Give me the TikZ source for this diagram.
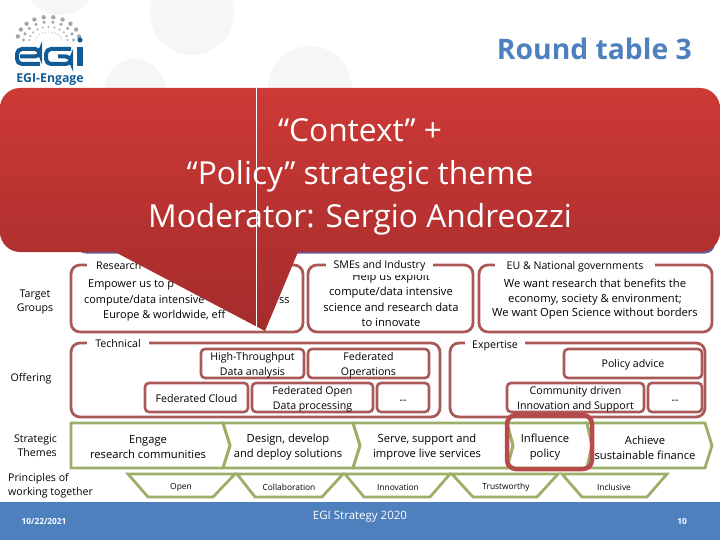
\documentclass[tikz,border=0pt]{standalone}
\usepackage{xcolor}
\usepackage{fontspec}
\setmainfont{Open Sans}
\usetikzlibrary{positioning, calc}
\definecolor{boxred}{RGB}{170,88,88}
\definecolor{themegreen}{RGB}{155,175,105}
\definecolor{calloutred}{RGB}{205,58,54}
\definecolor{calloutdark}{RGB}{165,44,44}
\definecolor{footblue}{RGB}{78,128,190}
\definecolor{egiblue}{RGB}{18,92,150}
\definecolor{paledot}{RGB}{245,246,248}

\begin{document}
\begin{tikzpicture}[
    x=1pt, y=-1pt,
    font=\fontsize{11.2}{15}\selectfont,
    group/.style={draw=boxred, line width=2.8pt, rounded corners=9pt},
    inner/.style={draw=boxred, line width=2.6pt, rounded corners=4pt, fill=white, align=center, inner sep=0pt, minimum height=29pt, font=\fontsize{10.6}{15}\selectfont, execute at begin node={\rule{0pt}{11pt}}},
    twoline/.style={inner, execute at begin node={\rule{0pt}{26pt}}},
    theme/.style={draw=themegreen, line width=2.8pt, line join=miter},
    tag/.style={fill=white, inner sep=1pt, font=\fontsize{10.6}{12}\selectfont},
    side/.style={font=\fontsize{10.6}{14.2}\selectfont},
    word/.style={align=center, font=\fontsize{8.4}{10}\selectfont},
    cut/.style={anchor=west, inner sep=0pt, font=\fontsize{10.9}{15}\selectfont}
]
\useasboundingbox (0,0) rectangle (720,540);

% Background dots
\fill[paledot] (60,-20) circle (35);
\fill[paledot] (192,13) circle (42);
\fill[paledot] (135,89) circle (30);
\fill[paledot] (310,88) circle (42);

% Logo
\foreach \a in {0,18,...,162}
  \fill[gray!70] ($(48.5,40)+({\a+9}:31 and -23)$) circle (2.2);
\foreach \a in {0,20,...,180}
  \fill[gray!70] ($(48.5,40)+({\a}:25 and -18)$) circle (1.7);
\foreach \a in {0,18,...,180}
  \fill[gray!60] ($(48.5,40)+({\a}:19 and -13)$) circle (1.2);
\foreach \a in {0,15,...,180}
  \fill[gray!50] ($(48.5,40)+({\a}:13 and -8)$) circle (0.7);
\fill[egiblue] (80,40) circle (2.6);
\draw[egiblue, line width=4pt, rounded corners=5pt] (40,64) -- (17,64) -- (17,49) -- (40,49) -- (40,56.5) -- (20,56.5);
\draw[egiblue, line width=4pt, rounded corners=5pt] (71,49) -- (46,49) -- (46,64) -- (71,64) -- (71,56.5) -- (58,56.5);
\draw[egiblue, line width=5.5pt] (80,47) -- (80,66);
\node[text=egiblue, font=\fontsize{12.3}{14}\selectfont\bfseries] (engage) at (50,80) {EGI-Engage};

% Title
\node[text=footblue, font=\fontsize{28.3}{30}\selectfont\bfseries, anchor=east, inner sep=0pt] (title) at (692,49) {Round table 3};

% Side labels
\node[side, align=center] (target) at (35,302) {Target\\Groups};
\node[side] (offering) at (31,379) {Offering};
\node[side, align=right, anchor=east, inner sep=0pt] (themes) at (57,445.5) {Strategic\\Themes};
\node[side, align=left, anchor=west, inner sep=0pt] (principles) at (8,485.5) {Principles of\\working together};

% Target groups
\draw[group] (71,265) rectangle (303,332);
\draw[group] (308,265) rectangle (473,332);
\draw[group] (479,265) rectangle (712,332);
\node[cut] (empower) at (88,284.5) {Empower us to p};
\node[cut] (intensive) at (84,300.5) {compute/data intensive};
\node[cut] (across) at (279,300.5) {ss};
\node[cut] (europe) at (103,315.5) {Europe \& worldwide, eff};
\node[align=center, font=\fontsize{11.2}{15.5}\selectfont] (exploit) at (391,299.5) {Help us exploit\\compute/data intensive\\science and research data\\to innovate};
\node[align=center, font=\fontsize{11.2}{14.5}\selectfont] (want) at (595,299.5) {We want research that benefits the\\economy, society \& environment;\\We want Open Science without borders};
\node[tag, anchor=west, inner xsep=9pt] (research) at (87,266) {Research};
\node[tag, minimum width=107pt, minimum height=17pt] (smes) at (379.5,266) {SMEs and Industry};
\node[tag, minimum width=160pt] (eu) at (575,267) {EU \& National governments};

% Offering
\draw[group] (71,343) rectangle (440,417);
\draw[group] (450,343) rectangle (705,417);
\node[tag, minimum width=62pt] (technical) at (118,344) {Technical};
\node[tag, minimum width=60pt] (expertise) at (495,346) {Expertise};
\node[twoline, minimum width=103pt] (htp) at (252.5,363.5) {High-Throughput\\Data analysis};
\node[twoline, minimum width=121pt] (fedops) at (368.5,363.5) {Federated\\Operations};
\node[inner, minimum width=103pt] (fedcloud) at (196.5,397.5) {Federated Cloud};
\node[twoline, minimum width=121pt] (fedopen) at (312.5,397.5) {Federated Open\\Data processing};
\node[inner, minimum width=52pt] (dashA) at (403,397.5) {{-}{-}};
\node[inner, minimum width=138pt] (advice) at (633,363.5) {Policy advice};
\node[twoline, minimum width=137pt] (community) at (575.5,397.5) {Community driven\\Innovation and Support};
\node[inner, minimum width=54pt] (dashB) at (675,397.5) {{-}{-}};

% Strategic themes
\draw[theme] (71,423) -- (223,423) -- (230,445.5) -- (223,468) -- (71,468) -- cycle;
\draw[theme] (223,423) -- (353,423) -- (360,445.5) -- (353,468) -- (223,468) -- (230,445.5) -- cycle;
\draw[theme] (353,423) -- (507,423) -- (513,445.5) -- (507,468) -- (353,468) -- (360,445.5) -- cycle;
\draw[theme] (507,423) -- (587,423) -- (592,445.5) -- (587,468) -- (507,468) -- (513,445.5) -- cycle;
\draw[theme] (587,423) -- (705,423) -- (712,445.5) -- (705,468) -- (587,468) -- (592,445.5) -- cycle;
\node[align=center] (engageres) at (148,447.5) {Engage\\research communities};
\node[align=center] (design) at (288,447.5) {Design, develop\\and deploy solutions};
\node[align=center] (serve) at (427,447.5) {Serve, support and\\improve live services};
\node[align=center] (influence) at (545,447.5) {Influence\\policy};
\node[align=center] (achieve) at (645,447.5) {Achieve\\sustainable finance};
\draw[draw=boxred!85!red, line width=4.5pt, rounded corners=9pt] (507,415) rectangle (592,469);

% Principles
\draw[theme] (128,474) -- (235,474) -- (213,497) -- (148,497) -- cycle;
\draw[theme] (237,474) -- (343,474) -- (322,497) -- (255,497) -- cycle;
\draw[theme] (345,474) -- (450,474) -- (430,497) -- (364,497) -- cycle;
\draw[theme] (452,474) -- (558,474) -- (537,497) -- (473,497) -- cycle;
\draw[theme] (562,474) -- (667,474) -- (647,497) -- (582,497) -- cycle;
\node[word] (open) at (181,487) {Open};
\node[word] (collab) at (289,487) {Collaboration};
\node[word] (innov) at (398,487) {Innovation};
\node[word] (trust) at (506,487) {Trustworthy};
\node[word] (inclusive) at (614,487) {Inclusive};

% Footer
\fill[footblue] (0,502) rectangle (720,540);
\node[text=white, font=\fontsize{8.3}{9}\selectfont\bfseries] (date) at (44,522) {10/22/2021};
\node[text=white, font=\fontsize{8.3}{9}\selectfont\bfseries] (page) at (682,522) {10};
\node[text=white, font=\fontsize{11.5}{13}\selectfont] (strategy) at (360,517) {EGI Strategy 2020};

% Callout
\fill[rounded corners=10pt, blue!25!gray] (76,100) rectangle (715,253.5);
\shade[top color=calloutred, bottom color=calloutdark, middle color=calloutred!45!calloutdark]
  (0,108) .. controls (0,97) and (9,88) .. (20,88) -- (700,88) .. controls (711,88) and (720,97) .. (720,108)
  -- (720,232) .. controls (720,243) and (711,252) .. (700,252)
  -- (298,252) -- (265,331) -- (115,252) -- (20,252) .. controls (9,252) and (0,243) .. (0,232) -- cycle;
\draw[white, line width=0.6pt] (256.5,88) -- (256.5,328);
\node[text=white, align=center, font=\fontsize{31.7}{43}\selectfont] (context) at (360,177) {“Context” +\\“Policy” strategic theme\\Moderator: Sergio Andreozzi};

\end{tikzpicture}
\end{document}
